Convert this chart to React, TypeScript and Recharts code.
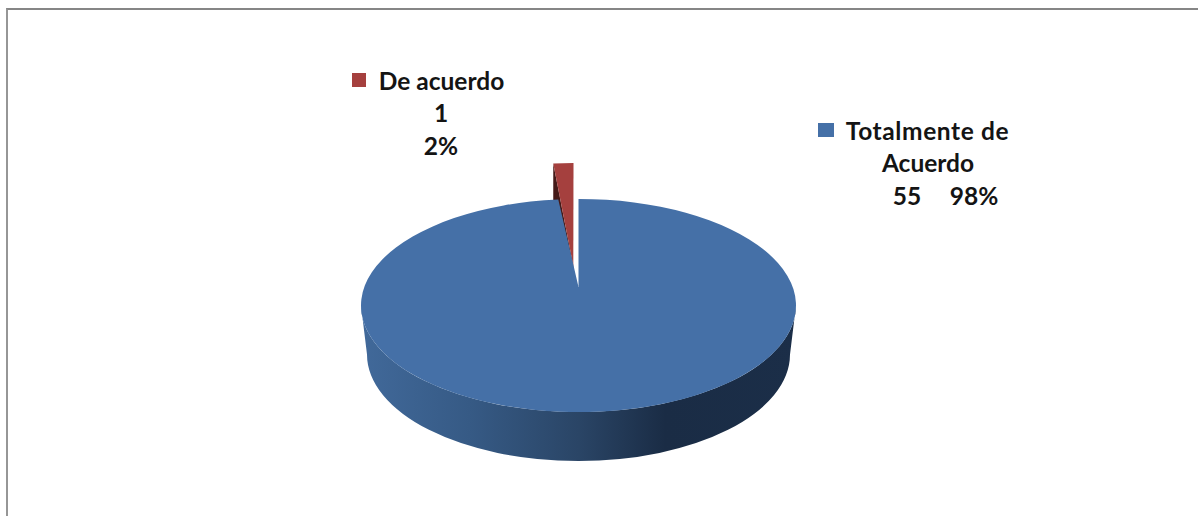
import React from 'react';
import { PieChart, Pie, Cell } from 'recharts';

const categories = ['De acuerdo', 'Totalmente de Acuerdo'];
const values = [1, 55];
const colors = ['#A5403E', '#4570A7'];

const chartData = categories.map((name, i) => ({ name, value: values[i] }));

const font = 'Lato, "Open Sans", sans-serif';
const CENTER_X = 578.5;
const CENTER_Y = 305.5;
const RADIUS = 217.5;
const SQUASH = 0.49;
const DEPTH = 49;
// the slice is seen from the back, so its angle looks a bit narrower
const BACK_NARROW = 0.83;

const point = (cx, cy, rx, ry, angle) => {
  const a = (angle * Math.PI) / 180;
  return [cx + rx * Math.cos(a), cy - ry * Math.sin(a)];
};
const backAngle = (angle) => 90 + (angle - 90) * BACK_NARROW;

const Slice3D = (props) => {
  const { cx, cy, outerRadius, startAngle, endAngle, fill } = props;
  const rx = outerRadius;
  const ry = outerRadius * SQUASH;
  const isBig = endAngle - startAngle > 180;

  if (!isBig) {
    // pulled out slice
    const ox = cx - 5;
    const oy = cy - 36;
    const apex = [573.3, 266];
    const right = point(ox, oy, rx, ry, startAngle);
    const left = point(ox, oy, rx, ry, backAngle(endAngle));
    return (
      <g>
        <path
          d={`M${left[0]},${left[1]} L${apex[0]},${apex[1]} L${apex[0]},${apex[1] + DEPTH} L${left[0]},${left[1] + DEPTH} Z`}
          fill="#451A18"
        />
        <path
          d={`M${apex[0]},${apex[1]} L${right[0]},${right[1]} A${rx},${ry} 0 0 0 ${left[0]},${left[1]} Z`}
          fill={fill}
        />
      </g>
    );
  }

  const start = point(cx, cy, rx, ry, backAngle(startAngle));
  const end = point(cx, cy, rx, ry, endAngle);
  const inset = 6;
  const lowY = cy + DEPTH;
  return (
    <g>
      <defs>
        <linearGradient id="wall" x1="0" y1="0" x2="1" y2="0">
          <stop offset="0" stopColor="#41699A" />
          <stop offset="0.25" stopColor="#365A85" />
          <stop offset="0.5" stopColor="#2A4566" />
          <stop offset="0.7" stopColor="#1A2C45" />
          <stop offset="1" stopColor="#1B2E48" />
        </linearGradient>
      </defs>
      <path
        d={`M${cx - rx},${cy} L${cx - rx + inset},${lowY} A${rx - inset},${ry} 0 0 0 ${cx + rx - inset},${lowY} L${cx + rx},${cy} A${rx},${ry} 0 0 1 ${cx - rx},${cy} Z`}
        fill="url(#wall)"
      />
      <path
        d={`M${cx},${cy - 18.5} L${start[0]},${start[1]} A${rx},${ry} 0 1 0 ${end[0]},${end[1]} Z`}
        fill={fill}
      />
    </g>
  );
};

const textProps = {
  fontFamily: font,
  fontSize: 24.5,
  fontWeight: 700,
  fill: '#141414',
  textAnchor: 'middle',
};

const SliceLabel = (props) => {
  const { index, name, value, percent } = props;
  const pct = `${Math.round(percent * 100)}%`;
  if (index === 0) {
    return (
      <g>
        <rect x={352} y={73} width={14} height={14} fill={colors[0]} />
        <text {...textProps} x={441.5} y={90}>{name}</text>
        <text {...textProps} x={441} y={122}>{value}</text>
        <text {...textProps} x={441} y={155}>{pct}</text>
      </g>
    );
  }
  const words = name.split(' ');
  return (
    <g>
      <rect x={818} y={123} width={16} height={14} fill={colors[1]} />
      <text {...textProps} letterSpacing={0.6} x={927.5} y={140}>{words.slice(0, 2).join(' ')}</text>
      <text {...textProps} x={928} y={172}>{words.slice(2).join(' ')}</text>
      <text {...textProps} x={907} y={205}>{value}</text>
      <text {...textProps} x={974} y={205}>{pct}</text>
    </g>
  );
};

export default function App() {
  return (
    <div style={{ position: 'fixed', left: 0, top: 0, width: 1198, height: 516, background: '#fff', overflow: 'hidden' }}>
      <div
        style={{
          position: 'absolute',
          left: 6,
          top: 8,
          width: 1198,
          height: 516,
          borderTop: '2px solid #868686',
          borderLeft: '2px solid #969696',
        }}
      />
      <div style={{ position: 'absolute', left: 0, top: 0 }}>
        <PieChart width={1198} height={516} margin={{ top: 0, right: 0, bottom: 0, left: 0 }}>
          <Pie
            data={chartData}
            dataKey="value"
            nameKey="name"
            cx={CENTER_X}
            cy={CENTER_Y}
            outerRadius={RADIUS}
            startAngle={90}
            endAngle={450}
            stroke="none"
            shape={Slice3D}
            label={SliceLabel}
            labelLine={false}
            isAnimationActive={false}
          >
            {chartData.map((d, i) => (
              <Cell key={d.name} fill={colors[i]} />
            ))}
          </Pie>
        </PieChart>
      </div>
    </div>
  );
}
